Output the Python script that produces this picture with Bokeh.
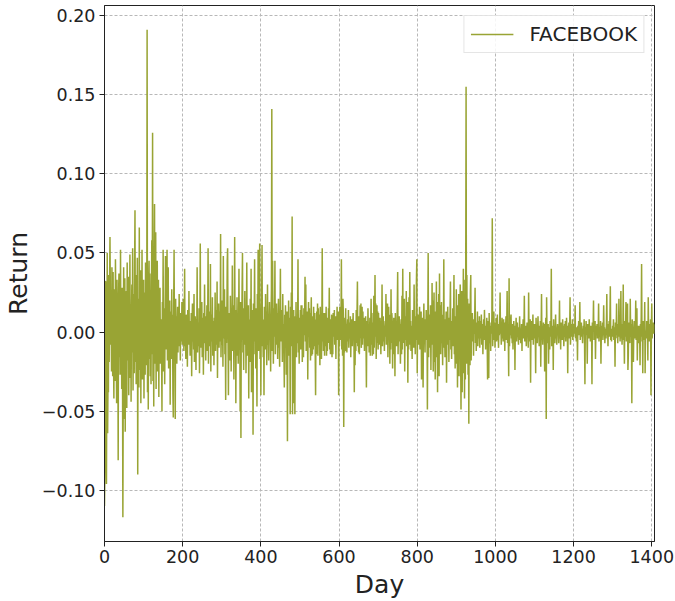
import numpy as np
from bokeh.plotting import figure
from bokeh.models import Range1d, FixedTicker, CustomJSTickFormatter
from bokeh.embed import file_html
from bokeh.resources import INLINE

# Daily returns in thousandths (per mille), in blocks of trading days
ret_0_199 = [
    -110, -89, 32, 32, -34, -96, -23, 50, -64, -30, -38, 36, -19, 30, 60, 22, -8, 12, -25, 41,
    14, -28, 38, -15, -42, 27, 5, -31, 46, 18, -12, -45, 33, -21, 9, -81, 24, 37, -16, 11,
    -27, 52, -9, 19, -36, 28, -14, -117, -30, 41, -55, 15, 34, -63, 8, -22, 26, -48, 44, 3,
    -18, 35, -40, 21, -6, 49, -29, 17, -44, 12, 30, -13, 53, -37, 7, 24, -26, 40, 77, -19,
    36, -33, 15, -8, 47, -90, 21, 9, -35, 66, -24, 13, 39, -45, 28, -11, 52, -30, 18, -6,
    33, -42, 25, 11, -27, 44, -15, 7, -21, 191, -38, 16, -49, 29, 45, -17, 37, -28, 12, -33,
    24, 58, -14, 126, -31, 19, -47, 40, 81, -20, 8, 63, -36, 27, -12, 45, -25, 14, 33, -41,
    12, -4, 28, -20, 8, 2, -14, -50, 19, -7, 52, -25, 4, 15, -33, 9, 48, -11, 26, -3,
    52, -18, 6, 41, -23, 2, -9, 20, -46, 13, 5, -17, 27, -6, 11, -39, -54, 16, 52, -12,
    6, -55, 21, -4, 10, -20, 2, 16, -13, 8, -2, 24, -9, 4, -18, 12, 0, -6, 19, -8,
]
ret_200_399 = [
    8, -4, 21, -12, 3, 40, -9, 6, -17, 11, -2, 9, -22, 14, 1, -8, 26, -5, 4, -15,
    7, -2, 12, -28, 5, 18, -6, 3, -11, 24, -19, 4, 10, -3, -24, 8, -5, 41, -13, 2,
    6, -9, 15, -26, 4, 56, -10, 7, -3, 19, -16, 1, 9, -27, 12, -5, 30, -7, 3, -18,
    10, -2, 17, -12, 5, 53, -20, 8, -4, 13, -9, 43, -25, 4, 11, -6, 22, -15, 2, 7,
    -21, 9, -5, 25, -12, 3, 14, -8, 32, -29, 6, -3, 18, -10, 7, 13, -6, 62, -16, 4,
    20, -8, 10, -22, 48, -4, 7, 27, -14, 2, -43, 16, -7, 9, 45, 53, -3, -40, 12, -10,
    5, -18, 23, 8, -25, 11, -4, 42, -12, 3, 17, -30, 6, 60, -9, 14, -45, 4, -15, 22,
    -6, 10, -20, 3, 40, -11, 7, -50, 19, -67, 12, -5, 28, 50, -13, 4, -24, 15, -8, 26,
    -3, 11, -26, 6, 44, -15, 5, -9, 17, -42, 8, 2, -19, 21, -7, 40, -38, 10, -4, 14,
    -65, 18, -6, 9, 46, -14, 4, -23, 15, 3, -47, 24, -9, 52, -12, 6, 18, 56, -17, 7,
]
ret_400_599 = [
    -40, 12, 20, 55, -9, 4, -16, 8, -40, 16, 2, -11, 24, -5, 13, -21, 3, 30, -8, 9,
    -18, 6, 19, -4, 11, -25, 8, 26, 141, -12, 45, 5, -20, 15, -3, 10, 45, -14, 4, -8,
    18, -5, 12, -17, 6, 21, -10, 2, -22, 9, 40, -6, 14, -3, 8, -19, 24, -2, 5, -13,
    -35, 11, -7, 17, 3, -27, 7, 13, -69, 5, -11, 20, -15, 2, 9, -52, 16, -5, 25, -9,
    73, -52, 6, -45, 14, -23, 4, -52, 10, -3, 19, -16, 8, -7, 2, 46, -13, 5, -20, 9,
    -4, 14, -11, 17, -2, 17, -19, 3, 11, -16, 15, -2, 9, 35, -6, 30, -12, 13, -8, 13,
    -30, 4, 19, -3, 15, -10, 12, -18, 7, 22, -15, 10, -14, 4, -11, 16, -9, 6, 12, -12,
    -40, 8, -14, 13, -2, 18, -15, 15, -8, 11, 3, -21, 16, -1, 9, -17, 4, 53, -6, 10,
    -12, 12, 7, -15, 12, -9, 1, 16, -15, 4, -12, 9, -7, 15, 1, 28, -11, 3, -14, 8,
    -2, 11, -16, 4, -14, 12, 8, -3, 14, -8, 10, 5, -17, 10, -1, 16, -5, 3, 13, -40,
]
ret_600_799 = [
    4, -9, 16, -5, 12, 8, 46, -11, 4, -15, 21, 11, -60, 6, -13, 9, -7, 15, -12, 5,
    -13, 3, 8, -6, 14, -10, 1, 6, -4, 10, -16, 2, -1, 8, -9, 4, 12, -5, 2, -38,
    7, -21, 3, -12, 14, -7, 11, 32, -9, 5, -13, 10, -14, 2, 17, -4, 18, -10, 0, 16,
    -8, 13, -4, 2, 9, -12, 4, -1, 10, -6, -35, 3, 7, -9, 15, -2, 5, -13, 1, 9,
    -15, 3, 21, -8, 12, -15, 6, 1, -14, 23, -10, 5, 36, -3, 18, -17, 0, 17, -7, 13,
    -11, 12, -2, 5, -8, 9, 3, -14, 6, -4, 30, -9, 1, 10, -6, 4, -12, 2, 7, -3,
    24, -8, 13, -5, 18, -16, 1, 16, -3, 11, -20, 4, -11, 27, -7, 12, 7, -23, 4, -14,
    9, -6, 2, -28, 12, -2, 6, -9, 4, 15, 38, -14, 3, -6, 10, -3, 5, -20, 1, 8,
    -14, 23, -11, 40, -7, 14, -2, 21, -25, 6, 10, -5, 26, -9, 3, 19, -32, 5, -11, 22,
    -8, 38, -3, 7, -12, 4, 1, -17, 14, -5, 3, -10, 30, -2, 7, -14, 10, -5, 33, 46,
]
ret_800_999 = [
    -26, 6, -3, 11, -8, 2, 16, -11, 4, -1, 13, -30, 6, -4, 9, -35, 3, 18, -7, 1,
    -13, 8, -5, 14, -2, 9, -49, 4, 50, -16, 6, -10, 11, -3, 17, -24, 5, -8, 31, -6,
    20, -25, 2, 25, -19, 7, -30, 13, -16, 32, -12, 14, -38, 19, -2, 24, -28, 37, -14, 17,
    -14, 5, 19, -7, 3, -21, 11, -4, 46, -10, 4, -16, 8, -1, 13, -32, 6, -8, 16, -3,
    9, -19, 4, -5, 12, 32, -11, 2, -17, 7, -3, 15, -9, 5, 36, -14, 3, -23, 10, -6,
    27, -20, 14, -35, 17, -3, 24, -28, 18, -14, 30, -12, -49, 16, 26, -38, 20, 4, 40, -26,
    33, -42, 18, -30, 23, 155, -20, 36, -15, 21, -27, 13, -58, 18, 4, -21, 25, 36, -18, 12,
    -6, 12, -3, 8, -15, 4, -1, 9, 28, -7, 3, -12, 6, -2, 13, -9, 1, 7, -4, 10,
    -10, 3, 7, -4, 11, -8, 0, 5, -14, 2, 8, -5, 14, -1, 4, -11, 3, 0, 9, -6,
    -30, 7, -3, -29, 12, -7, 2, 4, -12, 6, -1, 10, 72, -9, 3, -5, 13, -2, 6, -10,
]
ret_1000_1199 = [
    4, -3, 9, -6, 1, 11, -5, 0, -10, 5, -2, 7, 25, -1, 3, -8, 2, 9, -4, 0,
    -6, 8, -1, 3, -12, 6, 0, 10, -5, 2, 26, -7, 1, -3, -28, 34, -9, 4, -2, 8,
    11, -4, 1, -7, 5, -11, 0, 7, -2, 4, -24, 3, -1, 9, -6, 1, 6, -3, 0, -8,
    3, -2, 10, -5, 2, -7, 0, 5, -12, 3, 0, 8, -4, 1, 23, -6, 2, -3, 4, -9,
    0, 6, -3, 4, -10, 25, -1, 3, -6, 8, -32, 2, -1, 7, -5, 1, 11, -8, 3, -2,
    5, -4, 0, -26, 9, -2, 4, -7, 2, 10, -3, 0, -9, 4, -6, 7, -22, 1, 24, -5,
    3, -8, 0, 6, -2, 5, -25, 2, -4, 9, -55, 22, -1, 4, -7, 5, -20, 0, 3, -11,
    7, -3, 1, 40, -9, 4, -6, 2, -24, 8, -1, 3, -7, 0, 11, -4, 2, -8, 1, 5,
    -2, 4, -7, 0, 20, -4, 2, -11, 6, -1, 3, -5, 8, -1, 4, -9, 0, 5, -3, 7,
    -6, 1, 9, -2, 4, -26, 3, 0, 6, -4, 2, 22, -8, 0, -3, 5, -1, 8, -5, 2,
]
ret_1200_1407 = [
    -3, 5, -1, 2, 17, -4, 0, -6, 3, 1, -18, 4, 0, 7, -2, 0, 19, -5, 1, -1,
    6, -3, 2, -7, 0, 4, -1, 8, -5, -33, 3, 0, 7, -2, 1, -20, 5, 0, 3, -4,
    8, -1, 0, -6, 4, -3, 2, -33, 6, 0, 3, 20, -5, 1, -2, 7, -17, 0, 4, -1,
    5, -4, 2, 0, 18, -6, 1, 3, -3, 7, -20, 0, 4, -2, 6, -5, 1, 17, -1, 3,
    -7, 2, 0, -4, 6, 24, -2, 3, -9, 5, 0, 7, -3, 10, 29, -5, 2, -6, 1, -3,
    4, -1, 8, -5, 0, 3, -22, 6, -2, 1, 18, -4, 2, -7, 5, 0, 21, -3, 1, -6,
    3, 26, -4, 0, -8, 5, -2, 30, -5, 1, -20, 7, -3, 2, 19, -6, 0, -4, 18, -24,
    -15, 6, -1, 4, -7, 21, -3, 0, 5, -45, 8, -2, 3, -19, 1, 7, -4, 2, 0, 20,
    -5, 3, 15, -18, 1, -2, 4, -7, 4, 0, -21, 5, -3, 9, 43, -6, 2, -26, 7, -1,
    3, -5, 19, -26, 1, 0, -4, 7, -2, 4, -18, 22, 0, 2, -6, 5, -3, 8, -40, 1,
    18, -4, 3, -1, 6, 0, -1, 5,
]

returns = np.array(
    ret_0_199 + ret_200_399 + ret_400_599 + ret_600_799
    + ret_800_999 + ret_1000_1199 + ret_1200_1407,
    dtype=float,
) / 1000.0
days = np.arange(len(returns))

x_ticks = [0, 200, 400, 600, 800, 1000, 1200, 1400]
y_ticks = [-0.10, -0.05, 0.00, 0.05, 0.10, 0.15, 0.20]

pad = 0.05 * (returns.max() - returns.min())
p = figure(
    width=675, height=601,
    output_backend="svg", toolbar_location=None,
    x_range=Range1d(0, len(returns) - 1),
    y_range=Range1d(returns.min() - pad, returns.max() + pad),
    min_border_left=103, min_border_right=21,
    min_border_top=5, min_border_bottom=60,
    background_fill_color="white", border_fill_color="white",
)

p.line(days, returns, line_color="#99a434", line_width=1.5, legend_label="FACEBOOK")

FONT = "DejaVu Sans"
p.xaxis.ticker = FixedTicker(ticks=x_ticks)
p.yaxis.ticker = FixedTicker(ticks=y_ticks)
p.yaxis.formatter = CustomJSTickFormatter(
    code="return tick.toFixed(2).replace('-', '\u2212');"
)
for ax in (p.xaxis, p.yaxis):
    ax.major_label_text_font = FONT
    ax.major_label_text_font_size = "17.5px"
    ax.major_label_text_color = "#222222"
    ax.axis_label_text_font = FONT
    ax.axis_label_text_font_size = "25px"
    ax.axis_label_text_font_style = "normal"
    ax.axis_label_text_color = "#222222"
    ax.major_tick_out = 5
    ax.major_tick_in = 0
    ax.minor_tick_line_color = None
    ax.major_tick_line_color = "#222222"
    ax.axis_line_color = "#222222"
p.xaxis.axis_label = "Day"
p.yaxis.axis_label = "Return"
p.xaxis.major_label_standoff = 3
p.yaxis.major_label_standoff = 4
p.xaxis.axis_label_standoff = 4
p.yaxis.axis_label_standoff = 6

p.outline_line_color = "#222222"
p.outline_line_width = 1

p.grid.grid_line_color = "#b8b8b8"
p.grid.grid_line_dash = "3 2"
p.grid.grid_line_width = 1

p.legend.location = "top_right"
p.legend.label_text_font = FONT
p.legend.label_text_font_size = "20px"
p.legend.label_text_color = "#222222"
p.legend.glyph_width = 43
p.legend.label_standoff = 16
p.legend.padding = 6
p.legend.margin = 10
p.legend.border_line_color = "#cccccc"
p.legend.border_line_width = 1
p.legend.background_fill_alpha = 0.85

open("out.html", "w").write(file_html(p, INLINE))
